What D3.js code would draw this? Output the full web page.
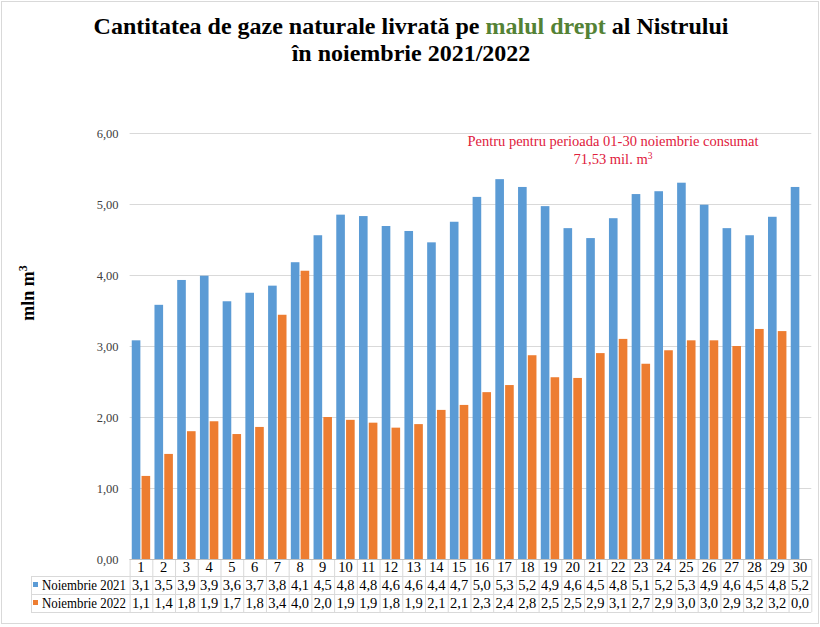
<!DOCTYPE html>
<html>
<head>
<meta charset="utf-8">
<script src="https://cdn.jsdelivr.net/npm/d3@7/dist/d3.min.js"></script>
<style>
  html, body { margin: 0; padding: 0; background: #fff; }
  svg { display: block; }
  text { font-family: "Liberation Serif", "Times New Roman", serif; }
</style>
</head>
<body>
<svg id="chart" width="820" height="627"></svg>
<script>
const days = ["1","2","3","4","5","6","7","8","9","10","11","12","13","14","15","16","17","18","19","20","21","22","23","24","25","26","27","28","29","30"];
const seriesNames = ["Noiembrie 2021", "Noiembrie 2022"];
const values2021 = [3.08,3.58,3.93,3.99,3.63,3.75,3.85,4.18,4.56,4.85,4.83,4.69,4.62,4.46,4.75,5.10,5.35,5.24,4.97,4.66,4.52,4.80,5.14,5.18,5.30,4.99,4.66,4.56,4.82,5.24];
const values2022 = [1.17,1.48,1.80,1.94,1.76,1.86,3.44,4.06,2.00,1.96,1.92,1.85,1.90,2.10,2.17,2.35,2.45,2.87,2.56,2.55,2.90,3.10,2.75,2.94,3.08,3.08,3.00,3.24,3.21,0.00];
const labels2021 = ["3,1","3,5","3,9","3,9","3,6","3,7","3,8","4,1","4,5","4,8","4,8","4,6","4,6","4,4","4,7","5,0","5,3","5,2","4,9","4,6","4,5","4,8","5,1","5,2","5,3","4,9","4,6","4,5","4,8","5,2"];
const labels2022 = ["1,1","1,4","1,8","1,9","1,7","1,8","3,4","4,0","2,0","1,9","1,9","1,8","1,9","2,1","2,1","2,3","2,4","2,8","2,5","2,5","2,9","3,1","2,7","2,9","3,0","3,0","2,9","3,2","3,2","0,0"];
const yTicks = [0,1,2,3,4,5,6];
const colors = ["#5B9BD5", "#ED7D31"];

const svg = d3.select("#chart");
const W = 820, H = 627;
const plotLeft = 129.6, plotRight = 811.3, plotTop = 133, plotBottom = 559;
const serif = '"Liberation Serif", "Times New Roman", serif';

// outer border
svg.append("rect").attr("x", 1.5).attr("y", 1.5).attr("width", W - 3).attr("height", H - 5)
  .attr("fill", "#fff").attr("stroke", "#d9d9d9").attr("stroke-width", 1);

// title
const title = svg.append("text").attr("x", 411).attr("y", 34)
  .attr("text-anchor", "middle").attr("font-size", 24).attr("font-weight", "bold").attr("fill", "#000");
title.append("tspan").text("Cantitatea de gaze naturale livrată pe ");
title.append("tspan").attr("fill", "#548235").text("malul drept");
title.append("tspan").text(" al Nistrului");
svg.append("text").attr("x", 411).attr("y", 61)
  .attr("text-anchor", "middle").attr("font-size", 24).attr("font-weight", "bold").attr("fill", "#000")
  .text("în noiembrie 2021/2022");

const x = d3.scaleBand().domain(days).range([plotLeft, plotRight]).paddingInner(0).paddingOuter(0);
const xs = d3.scaleBand().domain([0, 1]).range([0, x.bandwidth()]).paddingInner(0.12).paddingOuter(0.22);
const y = d3.scaleLinear().domain([0, 6]).range([plotBottom, plotTop]);

// gridlines
svg.append("g").selectAll("line").data(yTicks.filter(d => d > 0)).join("line")
  .attr("x1", plotLeft).attr("x2", plotRight)
  .attr("y1", d => y(d) + 0.5).attr("y2", d => y(d) + 0.5)
  .attr("stroke", "#d9d9d9").attr("stroke-width", 1);

// y axis labels
const yAxis = d3.axisLeft(y).tickValues(yTicks).tickSize(0).tickPadding(0)
  .tickFormat(d => d3.format(".2f")(d).replace(".", ","));
const yg = svg.append("g").attr("transform", `translate(${plotLeft - 11},0)`).call(yAxis);
yg.select(".domain").remove();
yg.selectAll("text").attr("font-size", 12.5).attr("fill", "#404040").style("font-family", serif);

// y axis title
svg.append("text").attr("transform", "translate(34,293) rotate(-90)")
  .attr("text-anchor", "middle").attr("font-size", 18).attr("font-weight", "bold").attr("fill", "#000")
  .call(t => { t.append("tspan").text("mln m"); t.append("tspan").attr("font-size", 12).attr("dy", -7).text("3"); });

// bars
const series = [values2021, values2022];
const gBars = svg.append("g");
series.forEach((vals, si) => {
  gBars.append("g").selectAll("rect").data(vals).join("rect")
    .attr("x", (d, i) => x(days[i]) + xs(si))
    .attr("width", xs.bandwidth())
    .attr("y", d => y(d))
    .attr("height", d => y(0) - y(d))
    .attr("fill", colors[si]);
});

// annotation
const ann = svg.append("g").attr("fill", "#E0203C").attr("font-size", 14.5);
ann.append("text").attr("x", 613).attr("y", 146).attr("text-anchor", "middle")
  .text("Pentru pentru perioada 01-30  noiembrie consumat");
const ann2 = ann.append("text").attr("x", 613).attr("y", 164).attr("text-anchor", "middle");
ann2.append("tspan").text("71,53 mil. m");
ann2.append("tspan").attr("font-size", 9.5).attr("dy", -5).text("3");

// data table
const rowTop = [559, 576, 594];
const rowBot = 612;
const legendLeft = 31;
const grid = svg.append("g").attr("stroke", "#d9d9d9").attr("stroke-width", 1).attr("fill", "none");
grid.append("line").attr("x1", plotLeft).attr("x2", plotRight).attr("y1", rowTop[0] + 0.5).attr("y2", rowTop[0] + 0.5);
[rowTop[1], rowTop[2], rowBot].forEach(yy => {
  grid.append("line").attr("x1", legendLeft).attr("x2", plotRight).attr("y1", yy + 0.5).attr("y2", yy + 0.5);
});
days.forEach(d => {
  grid.append("line").attr("x1", x(d) + 0.5).attr("x2", x(d) + 0.5).attr("y1", rowTop[0]).attr("y2", rowBot);
});
grid.append("line").attr("x1", plotRight + 0.5).attr("x2", plotRight + 0.5).attr("y1", rowTop[0]).attr("y2", rowBot);
grid.append("line").attr("x1", legendLeft + 0.5).attr("x2", legendLeft + 0.5).attr("y1", rowTop[1]).attr("y2", rowBot);

// axis baseline
svg.append("line").attr("x1", plotLeft).attr("x2", plotRight).attr("y1", plotBottom + 0.5).attr("y2", plotBottom + 0.5)
  .attr("stroke", "#bfbfbf");

const tbl = svg.append("g").attr("font-size", 14.5).attr("fill", "#000").attr("text-anchor", "middle");
tbl.selectAll("text.day").data(days).join("text").attr("class", "day")
  .attr("x", d => x(d) + x.bandwidth() / 2).attr("y", 572).text(d => d);
[labels2021, labels2022].forEach((labs, si) => {
  tbl.append("g").selectAll("text").data(labs).join("text")
    .attr("x", (d, i) => x(days[i]) + x.bandwidth() / 2).attr("y", si === 0 ? 590 : 608).text(d => d);
  svg.append("rect").attr("x", 33).attr("y", si === 0 ? 582 : 600).attr("width", 5).attr("height", 5).attr("fill", colors[si]);
  svg.append("text").attr("x", 42).attr("y", si === 0 ? 590 : 608).attr("font-size", 14)
    .attr("textLength", 84).attr("lengthAdjust", "spacingAndGlyphs")
    .style("font-family", serif).attr("fill", "#000")
    .text(seriesNames[si]);
});
</script>
</body>
</html>
